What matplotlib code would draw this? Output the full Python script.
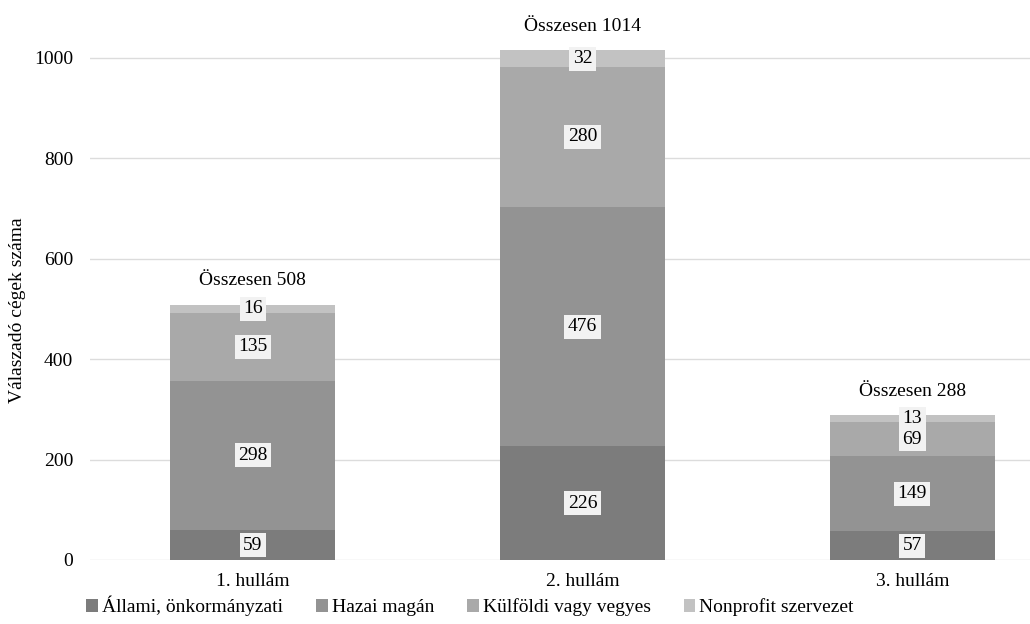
import numpy as np
import matplotlib.pyplot as plt

plt.rcParams['font.family'] = ['Liberation Serif', 'DejaVu Serif']
plt.rcParams['font.size'] = 14

# adatok
hullamok = ['1. hullám', '2. hullám', '3. hullám']
kategoriak = ['Állami, önkormányzati', 'Hazai magán', 'Külföldi vagy vegyes', 'Nonprofit szervezet']
allami = [59, 226, 57]
hazai = [298, 476, 149]
kulfoldi = [135, 280, 69]
nonprofit = [16, 32, 13]
osszesen = [508, 1014, 288]

szinek = ['#7c7c7c', '#939393', '#a9a9a9', '#c2c2c2']

fig = plt.figure(figsize=(10.30, 6.24), dpi=100)
# a tengely a kép tetejéig ér, hogy a 1000 feletti oszlop is látsszon
ax = fig.add_axes([90 / 1030, 1 - 560 / 624, 940 / 1030, 560 / 624])

x = np.arange(len(hullamok))
also = np.zeros(len(hullamok))
for ertekek, nev, szin in zip([allami, hazai, kulfoldi, nonprofit], kategoriak, szinek):
    ertekek = np.array(ertekek)
    ax.bar(x, ertekek, 0.5, bottom=also, color=szin, label=nev, zorder=2)
    # címke a szegmens közepére
    for xi, b, v in zip(x, also, ertekek):
        ax.text(xi, b + v / 2, str(v), ha='center', va='center', fontsize=14, zorder=3,
                bbox=dict(boxstyle='square,pad=0.18', fc='#f2f2f2', ec='none'))
    also = also + ertekek

for xi, ossz in zip(x, osszesen):
    ax.annotate('Összesen %d' % ossz, (xi, ossz), xytext=(0, 11), textcoords='offset points',
                ha='center', va='bottom', fontsize=14)

ax.set_xlim(-0.494, 2.357)
ax.set_ylim(0, 560 / 0.5025)
ax.set_yticks([0, 200, 400, 600, 800, 1000])
ax.set_xticks(x)
ax.set_xticklabels(hullamok)
ax.tick_params(axis='both', length=0)
ax.tick_params(axis='y', pad=12)
ax.tick_params(axis='x', pad=9)
ax.yaxis.grid(True, color='#dcdcdc', linewidth=1, zorder=0)
ax.set_axisbelow(True)
for s in ax.spines.values():
    s.set_visible(False)
ax.set_ylabel('Válaszadó cégek száma', fontsize=14)
ax.yaxis.set_label_coords(-(90 - 26) / 940, 250 / 560)

fig.legend(loc='center', bbox_to_anchor=(470 / 1030, 1 - 606 / 624), ncol=4, frameon=False,
           handlelength=0.6, handleheight=0.6, handletextpad=0.2, columnspacing=1.7, fontsize=14)

fig.savefig('out.png', dpi=100)
